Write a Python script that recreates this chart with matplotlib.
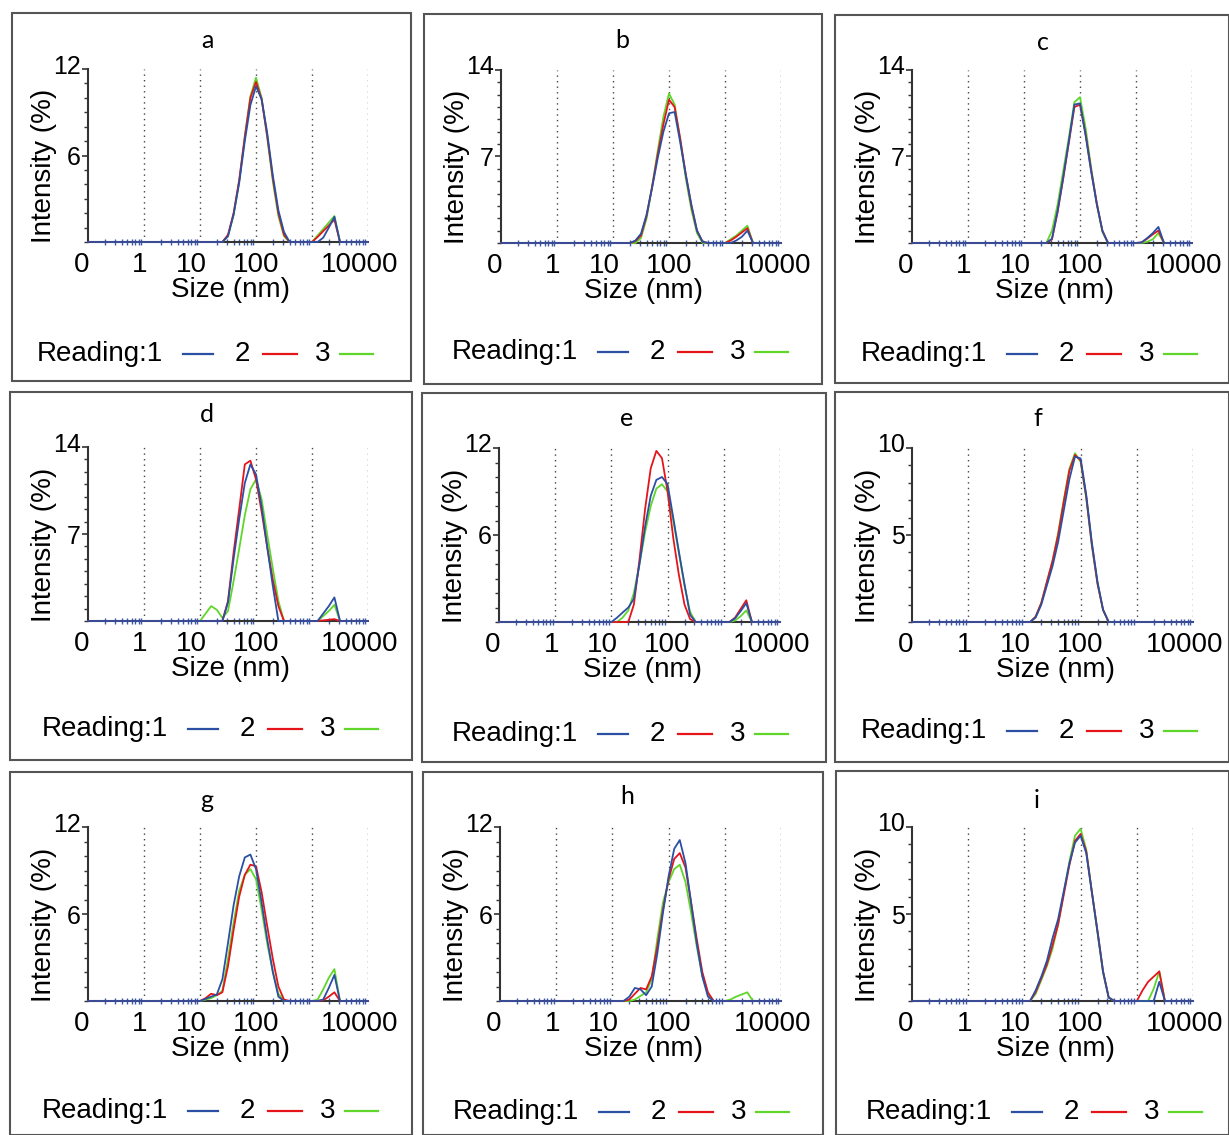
import numpy as np
import matplotlib
matplotlib.use("Agg")
import matplotlib.pyplot as plt
from matplotlib.patches import Rectangle
from matplotlib.lines import Line2D
from matplotlib.ticker import LogLocator, MultipleLocator, NullFormatter
from matplotlib.transforms import ScaledTranslation

plt.rcParams['font.family'] = ['Liberation Sans', 'DejaVu Sans']

# size bins (nm): 0.1, then 10 ... 10000 in tenth-decade steps
SIZES = [0.1, 10, 12.6, 15.8, 20, 25.1, 31.6, 39.8, 50.1, 63.1, 79.4,
         100, 126, 158, 200, 251, 316, 398, 501, 631, 794,
         1000, 1259, 1585, 1995, 2512, 3162, 3981, 5012, 6310, 7943, 10000]

# intensity (%) per reading
A1 = [0, 0, 0, 0, 0, 0, 0.4, 1.9, 4.1, 7.0, 9.5, 10.8, 9.9, 7.6, 4.6, 2.2, 0.7, 0, 0, 0, 0, 0, 0, 0.3, 1.0, 1.75, 0, 0, 0, 0, 0, 0]
A2 = [0, 0, 0, 0, 0, 0, 0.5, 2.0, 4.3, 7.3, 10.0, 11.1, 9.9, 7.4, 4.4, 2.0, 0.5, 0, 0, 0, 0, 0, 0.35, 0.75, 1.15, 1.55, 0, 0, 0, 0, 0, 0]
A3 = [0, 0, 0, 0, 0, 0, 0.4, 1.9, 4.2, 7.3, 10.1, 11.4, 10.0, 7.3, 4.2, 1.8, 0.4, 0, 0, 0, 0, 0, 0.45, 0.9, 1.35, 1.8, 0, 0, 0, 0, 0, 0]

B1 = [0, 0, 0, 0, 0, 0.2, 0.75, 2.3, 4.5, 6.9, 9.0, 10.5, 10.6, 8.2, 5.5, 3.1, 1.0, 0.1, 0, 0, 0, 0, 0, 0.2, 0.5, 1.0, 0, 0, 0, 0, 0, 0]
B2 = [0, 0, 0, 0, 0, 0.15, 0.6, 2.2, 4.6, 7.2, 9.6, 11.6, 11.0, 8.5, 5.5, 3.0, 1.0, 0.1, 0, 0, 0, 0, 0.2, 0.5, 0.85, 1.2, 0, 0, 0, 0, 0, 0]
B3 = [0, 0, 0, 0, 0, 0, 0.4, 2.0, 4.6, 7.5, 10.2, 12.1, 11.2, 8.4, 5.2, 2.7, 0.8, 0, 0, 0, 0, 0, 0.3, 0.6, 1.0, 1.4, 0, 0, 0, 0, 0, 0]

C1 = [0, 0, 0, 0, 0, 0, 0.35, 2.6, 5.3, 8.2, 11.2, 11.3, 8.7, 5.8, 3.1, 1.0, 0, 0, 0, 0, 0, 0, 0.05, 0.4, 0.8, 1.3, 0, 0, 0, 0, 0, 0]
C2 = [0, 0, 0, 0, 0, 0, 0.3, 2.5, 5.2, 8.1, 11.0, 11.2, 8.8, 5.9, 3.2, 1.0, 0, 0, 0, 0, 0, 0, 0.05, 0.35, 0.7, 1.0, 0, 0, 0, 0, 0, 0]
C3 = [0, 0, 0, 0, 0, 0, 1.0, 3.1, 5.8, 8.5, 11.4, 11.8, 9.3, 6.1, 3.1, 0.9, 0, 0, 0, 0, 0, 0, 0, 0.1, 0.3, 0.8, 0, 0, 0, 0, 0, 0]

D1 = [0, 0, 0, 0, 0, 0, 1.5, 5.0, 8.2, 11.1, 12.6, 11.8, 9.2, 6.0, 2.8, 0, 0, 0, 0, 0, 0, 0, 0, 0.6, 1.2, 1.9, 0, 0, 0, 0, 0, 0]
D2 = [0, 0, 0, 0, 0, 0, 1.6, 5.5, 9.0, 12.6, 12.9, 11.4, 8.8, 6.0, 3.3, 1.2, 0, 0, 0, 0, 0, 0, 0, 0.05, 0.1, 0.15, 0, 0, 0, 0, 0, 0]
D3 = [0, 0, 0.6, 1.2, 0.9, 0.25, 0.8, 3.2, 5.8, 8.5, 10.6, 11.4, 9.8, 7.0, 4.2, 1.6, 0, 0, 0, 0, 0, 0, 0, 0.4, 0.8, 1.3, 0, 0, 0, 0, 0, 0]

E1 = [0, 0, 0.3, 0.65, 1.0, 1.6, 4.0, 6.6, 8.7, 9.8, 10.0, 9.5, 7.2, 4.9, 2.6, 0.5, 0, 0, 0, 0, 0, 0, 0, 0.25, 0.75, 1.3, 0, 0, 0, 0, 0, 0]
E2 = [0, 0, 0, 0, 0, 1.2, 4.3, 7.8, 10.6, 11.8, 11.3, 9.0, 5.8, 3.3, 1.2, 0.2, 0, 0, 0, 0, 0, 0, 0, 0.3, 0.9, 1.5, 0, 0, 0, 0, 0, 0]
E3 = [0, 0, 0, 0.3, 0.8, 2.0, 4.0, 6.2, 8.0, 9.2, 9.5, 9.0, 7.0, 4.8, 2.5, 0.7, 0, 0, 0, 0, 0, 0, 0, 0.1, 0.4, 0.8, 0, 0, 0, 0, 0, 0]

F1 = [0, 0, 0, 0.25, 1.0, 2.1, 3.2, 4.6, 6.4, 8.2, 9.5, 9.4, 7.3, 4.6, 2.3, 0.7, 0, 0, 0, 0, 0, 0, 0, 0, 0, 0, 0, 0, 0, 0, 0, 0]
F2 = [0, 0, 0, 0.3, 1.1, 2.3, 3.5, 5.0, 6.9, 8.7, 9.6, 9.3, 7.2, 4.5, 2.2, 0.7, 0, 0, 0, 0, 0, 0, 0, 0, 0, 0, 0, 0, 0, 0, 0, 0]
F3 = [0, 0, 0, 0.3, 1.1, 2.3, 3.5, 5.1, 7.0, 8.8, 9.7, 9.2, 7.1, 4.4, 2.2, 0.7, 0, 0, 0, 0, 0, 0, 0, 0, 0, 0, 0, 0, 0, 0, 0, 0]

G1 = [0, 0, 0.15, 0.3, 0.45, 1.5, 4.0, 6.6, 8.6, 9.9, 10.1, 9.1, 6.8, 4.3, 2.0, 0.3, 0, 0, 0, 0, 0, 0, 0, 0.1, 0.9, 1.8, 0, 0, 0, 0, 0, 0]
G2 = [0, 0, 0.2, 0.5, 0.4, 0.6, 2.4, 4.9, 7.2, 8.7, 9.4, 9.3, 7.5, 5.2, 2.9, 1.0, 0.1, 0, 0, 0, 0, 0, 0, 0.05, 0.3, 0.6, 0, 0, 0, 0, 0, 0]
G3 = [0, 0, 0.1, 0.2, 0.4, 0.7, 2.9, 5.4, 7.6, 8.7, 9.1, 8.4, 6.3, 4.0, 2.0, 0.5, 0, 0, 0, 0, 0, 0, 0.1, 0.8, 1.6, 2.2, 0, 0, 0, 0, 0, 0]

H1 = [0, 0, 0, 0, 0.3, 0.9, 0.8, 0.4, 1.0, 3.3, 6.1, 8.6, 10.5, 11.1, 9.5, 6.8, 4.0, 1.7, 0.3, 0, 0, 0, 0, 0, 0, 0, 0, 0, 0, 0, 0, 0]
H2 = [0, 0, 0, 0, 0.1, 0.5, 0.9, 0.8, 1.7, 3.8, 6.3, 8.4, 9.8, 10.2, 9.2, 6.8, 4.3, 2.0, 0.6, 0, 0, 0, 0, 0, 0, 0, 0, 0, 0, 0, 0, 0]
H3 = [0, 0, 0, 0, 0, 0.1, 0.35, 0.6, 1.5, 4.3, 6.8, 8.2, 9.1, 9.4, 8.2, 6.1, 3.8, 1.7, 0.5, 0, 0, 0, 0.1, 0.3, 0.45, 0.6, 0, 0, 0, 0, 0, 0]

I1 = [0, 0, 0, 0.6, 1.4, 2.3, 3.6, 4.7, 6.3, 7.9, 9.1, 9.5, 8.5, 6.3, 4.0, 1.7, 0.2, 0, 0, 0, 0, 0, 0, 0, 0, 1.1, 0, 0, 0, 0, 0, 0]
I2 = [0, 0, 0, 0.5, 1.3, 2.1, 3.2, 4.4, 6.1, 7.8, 9.2, 9.6, 8.6, 6.3, 4.0, 1.7, 0.2, 0, 0, 0, 0, 0, 0.6, 1.1, 1.4, 1.7, 0, 0, 0, 0, 0, 0]
I3 = [0, 0, 0, 0.4, 1.2, 2.0, 3.0, 4.4, 6.2, 8.0, 9.5, 9.9, 8.7, 6.3, 3.9, 1.6, 0.2, 0, 0, 0, 0, 0, 0, 0, 0.7, 1.7, 0, 0, 0, 0, 0, 0]

LETTERS = ['a', 'b', 'c', 'd', 'e', 'f', 'g', 'h', 'i']
READINGS = [(A1, A2, A3), (B1, B2, B3), (C1, C2, C3), (D1, D2, D3), (E1, E2, E3),
            (F1, F2, F3), (G1, G2, G3), (H1, H2, H3), (I1, I2, I3)]
YMAX = [12, 14, 14, 14, 12, 10, 12, 12, 10]
X_TICKS = [0.1, 1, 10, 100, 10000]
X_TICKLABELS = ['0', '1', '10', '100', '10000']
X_LABEL_SHIFT = [-6, -4, -9, 0, -8]     # px, the labels sit a bit left of their ticks
GRID_X = [1, 10, 100, 1000, 10000]
COLORS = ['#2b4fa3', '#e5141b', '#5fd629']   # reading 1, 2, 3

# layout in pixels
W, H = 1229, 1135
BOXES = [(12, 13, 411, 381), (424, 14, 822, 384), (835, 15, 1229, 383),
         (10, 392, 412, 760), (422, 393, 826, 762), (835, 392, 1229, 762),
         (10, 772, 412, 1135), (423, 772, 823, 1135), (836, 771, 1229, 1135)]
AXES = [(88, 69, 368, 242), (501, 70, 781, 243), (912, 70, 1192, 243),
        (88, 447, 368, 621), (499, 448, 780, 622), (912, 448, 1193, 622),
        (88, 827, 368, 1001), (500, 827, 781, 1001), (912, 827, 1193, 1001)]
TITLE_XY = [(207, 40), (622, 40), (1043, 42), (207, 414), (627, 419), (1038, 419),
            (207, 800), (627, 797), (1037, 800)]
LEGEND_XY = [(37, 354), (452, 352), (861, 354), (42, 729), (452, 734), (861, 731),
             (42, 1111), (453, 1112), (866, 1112)]


def fx(px):
    return px / W


def fy(py):
    return 1 - py / H


fig = plt.figure(figsize=(W / 100, H / 100), dpi=100)

for k in range(9):
    l, t, r, b = AXES[k]
    ax = fig.add_axes([fx(l), fy(b), (r - l) / W, (b - t) / H])
    ymax = YMAX[k]

    # dotted decade lines
    ax.vlines(GRID_X, 0, ymax, colors='#444444', linestyles=(0, (1, 3)), lw=1.0, zorder=0)

    # draw reading 3 first so reading 1 sits on top
    for vals, col in reversed(list(zip(READINGS[k], COLORS))):
        ax.plot(SIZES, vals, color=col, lw=1.3, clip_on=False, zorder=3)

    ax.set_xscale('log')
    ax.set_xlim(0.1, 10000)
    ax.set_ylim(0, ymax)

    for side in ['top', 'right']:
        ax.spines[side].set_visible(False)
    for side in ['left', 'bottom']:
        ax.spines[side].set_color('#333333')
        ax.spines[side].set_linewidth(1.5)

    ax.set_xticks(X_TICKS)
    ax.set_xticklabels(X_TICKLABELS)
    ax.xaxis.set_minor_locator(LogLocator(base=10, subs=np.arange(2, 10), numticks=20))
    ax.xaxis.set_minor_formatter(NullFormatter())
    ax.tick_params(axis='x', which='major', length=0, pad=7, labelsize=20)
    ax.tick_params(axis='x', which='minor', length=4, direction='inout', color='#3a5aa8', width=1.0)
    for lab, dx in zip(ax.get_xticklabels(), X_LABEL_SHIFT):
        lab.set_transform(lab.get_transform() + ScaledTranslation(dx / 100, 0, fig.dpi_scale_trans))

    ax.set_yticks([ymax // 2, ymax])
    ax.yaxis.set_minor_locator(MultipleLocator(1))
    ax.tick_params(axis='y', which='major', length=4, width=1.2, color='#333333', pad=1, labelsize=18)
    ax.tick_params(axis='y', which='minor', length=3, width=1.0, color='#333333')
    top_lab = ax.get_yticklabels()[-1]
    top_lab.set_transform(top_lab.get_transform() + ScaledTranslation(0, 5 / 100, fig.dpi_scale_trans))

    ax.set_ylabel('Intensity (%)', fontsize=20)
    ax.yaxis.set_label_coords(-0.11, 0.44)
    ax.set_xlabel('Size (nm)', fontsize=20)
    ax.xaxis.set_label_coords(0.51, -0.2)

    # panel frame
    x0, y0, x1, y1 = BOXES[k]
    fig.add_artist(Rectangle((fx(x0), fy(y1)), (x1 - x0) / W, (y1 - y0) / H,
                             transform=fig.transFigure, fill=False, ec='#555555', lw=1.5))

    # panel letter
    tx, ty = TITLE_XY[k]
    fig.text(fx(tx), fy(ty), LETTERS[k], ha='center', va='center', fontsize=18, family='Lato')

    # "Reading" key under each panel
    lx, ly = LEGEND_XY[k]
    fig.text(fx(lx), fy(ly), 'Reading:1', ha='left', va='center', fontsize=20)
    fig.text(fx(lx + 205), fy(ly), '2', ha='center', va='center', fontsize=20)
    fig.text(fx(lx + 286), fy(ly), '3', ha='center', va='center', fontsize=20)
    for (a0, a1), col in zip([(146, 176), (226, 260), (303, 336)], COLORS):
        fig.add_artist(Line2D([fx(lx + a0), fx(lx + a1)], [fy(ly), fy(ly)],
                              transform=fig.transFigure, color=col, lw=1.6))

fig.savefig('out.png', dpi=100)
